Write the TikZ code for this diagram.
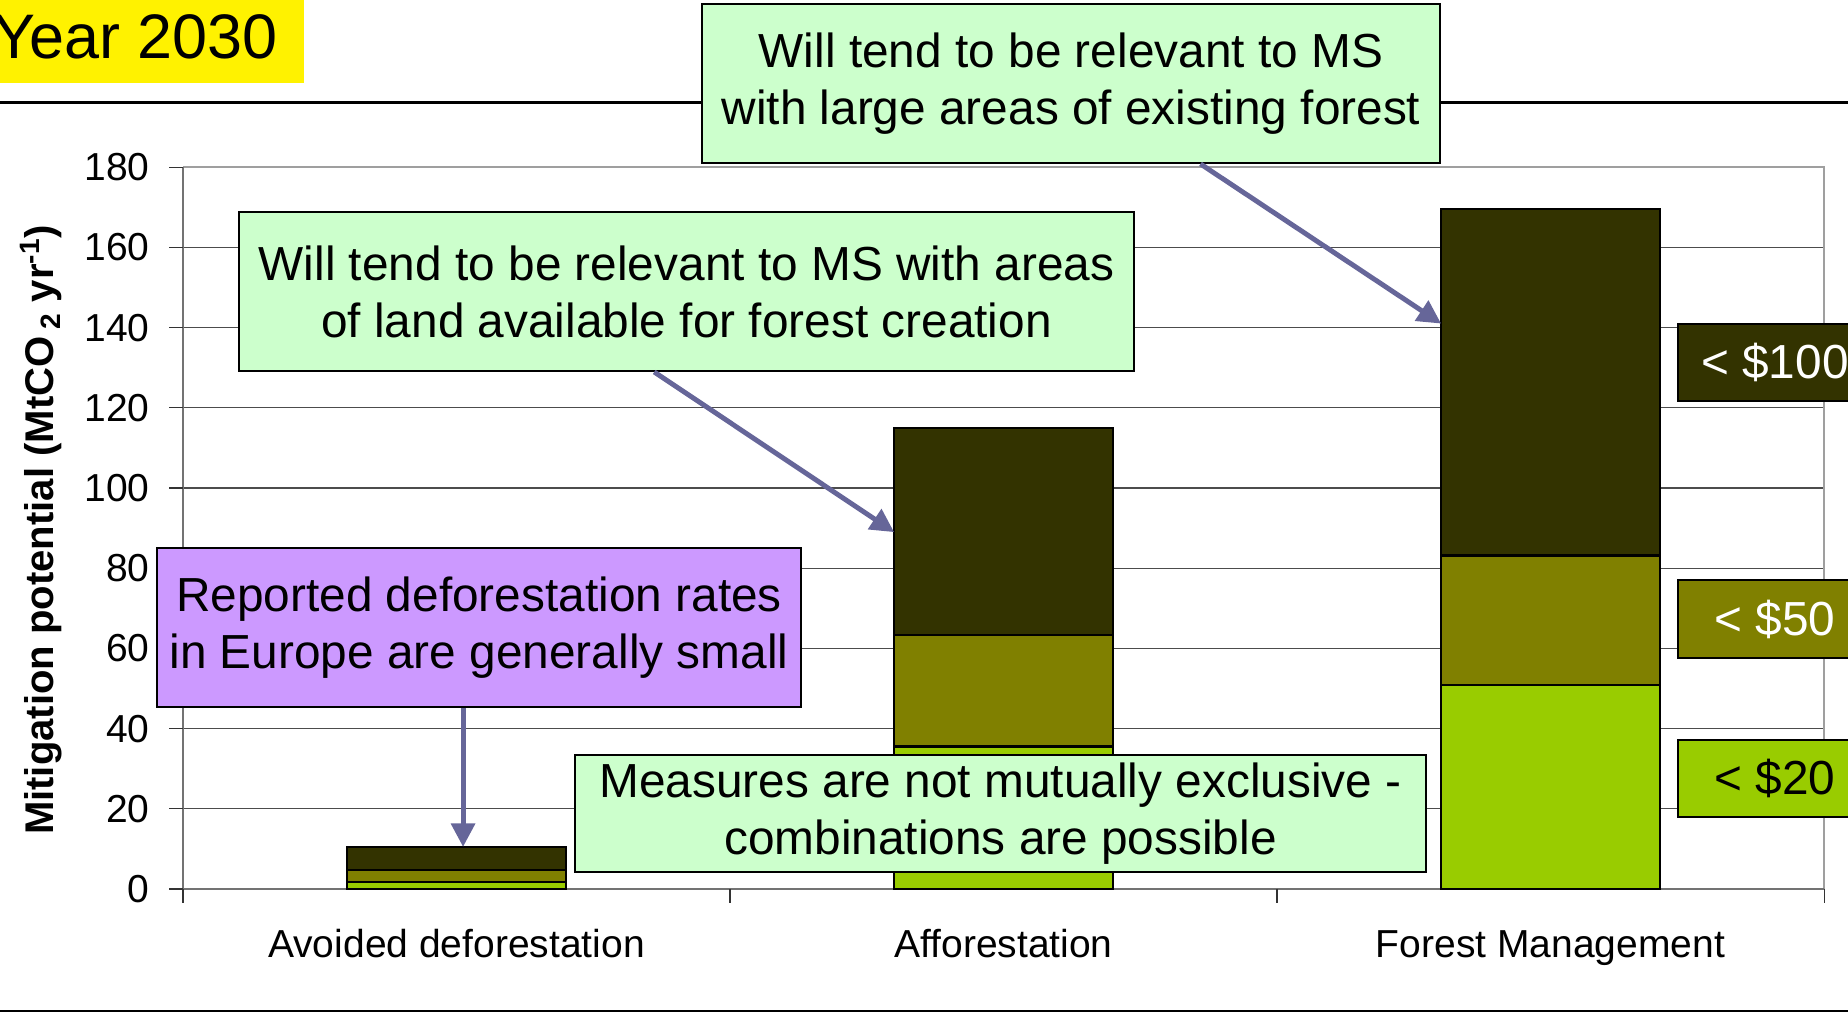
\documentclass[tikz,border=0pt]{standalone}
\usepackage{fontspec}
\setmainfont{Liberation Sans}
\usetikzlibrary{calc}
\usetikzlibrary{arrows.meta}
\usetikzlibrary{positioning}

\definecolor{darkbar}{HTML}{333300}
\definecolor{olivebar}{HTML}{808000}
\definecolor{limebar}{HTML}{99CC00}
\definecolor{notegreen}{HTML}{CCFFCC}
\definecolor{notepurple}{HTML}{CC99FF}
\definecolor{pointer}{HTML}{666699}

\newcommand{\notefont}{\fontsize{27.2}{32.5}\selectfont}
\newcommand{\axisfont}{\fontsize{22.2}{26}\selectfont}

\begin{document}
\begin{tikzpicture}[>={Triangle[length=0.47cm, width=0.47cm]},
		note/.style={draw, line width=1.1pt, fill=notegreen, align=center, inner sep=0pt, font=\notefont},
		price/.style={draw, line width=1.1pt, minimum width=3.88cm, minimum height=1.55cm, inner sep=0pt, font=\notefont},
		category/.style={font=\axisfont, anchor=base},
		gridline/.style={black!70, line width=0.6pt},
		barseg/.style={draw, line width=1.3pt}]
					\useasboundingbox (0,0) rectangle (36.96,20.36);
					
					% Year tag and chart frame
					\node (year) [fill=yellow, anchor=north west, minimum width=6.08cm, minimum height=1.66cm, inner sep=0pt] at (0,20.36) {};
					\node (yeartext) [anchor=base west, inner sep=0pt, font=\fontsize{35.8}{40}\selectfont] at (-0.14,19.18) {Year 2030};
					\draw[line width=1.7pt] (-0.2,0.14) rectangle (37.2,18.30);
					
					% Plot area in (category, value) units
					\begin{scope}[shift={(3.66,2.58)}, x=10.94cm, y=0.0802cm]
						\foreach \v in {20,40,...,160}
							\draw[gridline] (0,\v) -- (3,\v);
						\draw[gray!75, line width=1.1pt] (0,180) -- (3,180) -- (3,0);
						\draw[black!55, line width=1.1pt] (0,180) -- (0,0) -- (3,0);
						
						% Ticks and labels on the value axis
						\foreach \v in {0,20,...,180} {
							\draw[black!80, line width=0.6pt] (0,\v) -- ++(-0.28cm,0);
							\node (tick\v) [anchor=east, inner sep=0pt, xshift=-0.66cm, font=\axisfont] at (0,\v) {\v};
						}
						\foreach \c in {0,...,3}
							\draw[black!80, line width=0.6pt] (\c,0) -- ++(0,-0.28cm);
						
						% Stacked bars (< $20, < $50, < $100)
						\foreach \c/\lowv/\midv/\topv in {0.5/1.7/4.7/10.5, 1.5/35.5/63.3/115, 2.5/50.8/83.2/169.6} {
							\draw[barseg, fill=limebar] (\c-0.2,0) rectangle (\c+0.2,\lowv);
							\draw[barseg, fill=olivebar] (\c-0.2,\lowv) rectangle (\c+0.2,\midv);
							\draw[barseg, fill=darkbar] (\c-0.2,\midv) rectangle (\c+0.2,\topv);
						}
						
						% Category names
						\node (catavoid) [category] at (0.5,-17.2) {Avoided deforestation};
						\node (catafforest) [category] at (1.5,-17.2) {Afforestation};
						\node (catmanage) [category] at (2.5,-17.2) {Forest Management};
						
						% Where the pointers end
						\coordinate (avoidtip) at (0.512,10.5);
						\coordinate (afforesttip) at (1.3,89);
						\coordinate (managetip) at (2.3,141);
					\end{scope}
					
					% Value axis title
					\node (ytitle) [rotate=90, font=\bfseries\fontsize{22.8}{26}\selectfont] at (0.82,9.76) {Mitigation potential (MtCO\,\textsubscript{2} yr\textsuperscript{-1})};
					
					% Notes
					\node (forestnote) [note, minimum width=14.76cm, minimum height=3.18cm] at (21.42,18.69) {Will tend to be relevant to MS\\with large areas of existing forest};
					\node (landnote) [note, minimum width=17.90cm, minimum height=3.18cm] at (13.73,14.53) {Will tend to be relevant to MS with areas\\of land available for forest creation};
					\node (defnote) [note, fill=notepurple, minimum width=12.88cm, minimum height=3.18cm] at (9.58,7.81) {Reported deforestation rates\\in Europe are generally small};
					\node (mixnote) [note, minimum width=17.02cm, minimum height=2.34cm] at (20.01,4.09) {Measures are not mutually exclusive -\\combinations are possible};
					
					% Cost classes
					\node (p100) [price, fill=darkbar, text=white] at (35.5,13.11) {< \$100};
					\node (p50) [price, fill=olivebar, text=white] at (35.5,7.98) {< \$50};
					\node (p20) [price, fill=limebar] at (35.5,4.79) {< \$20};
					
					% Pointers from notes to bars
					\draw[->, pointer, line width=2.8pt] ($(forestnote.south west)!0.675!(forestnote.south east)$) -- (managetip);
					\draw[->, pointer, line width=2.8pt] ($(landnote.south west)!0.464!(landnote.south east)$) -- (afforesttip);
					\draw[->, pointer, line width=2.8pt] (avoidtip |- defnote.south) -- (avoidtip);
				\end{tikzpicture}
\end{document}
